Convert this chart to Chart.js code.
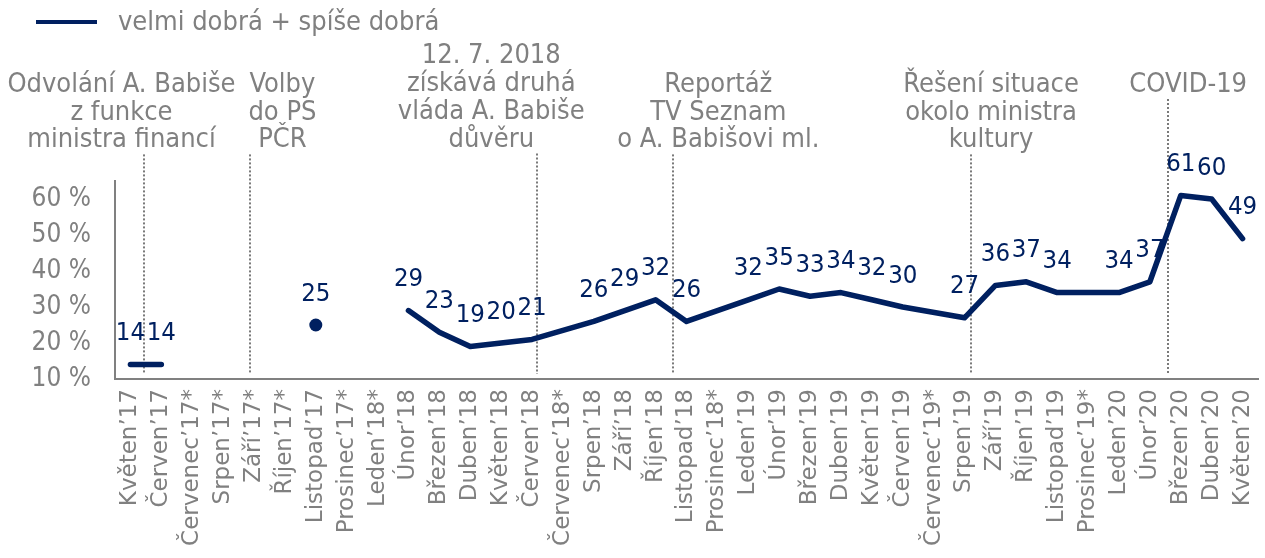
<!DOCTYPE html>
<html><head><meta charset="utf-8">
<script src="https://cdn.jsdelivr.net/npm/chart.js@4"></script>
<style>html,body{margin:0;padding:0;background:#fff}#wrap{width:1265px;height:558px}</style>
</head><body><div id="wrap"><canvas id="c" width="1265" height="558"></canvas></div>
<script>
const categories = ['Květen’17','Červen’17','Červenec’17*','Srpen’17*','Září’17*','Říjen’17*','Listopad’17','Prosinec’17*','Leden’18*','Únor’18','Březen’18','Duben’18','Květen’18','Červen’18','Červenec’18*','Srpen’18','Září’18','Říjen’18','Listopad’18','Prosinec’18*','Leden’19','Únor’19','Březen’19','Duben’19','Květen’19','Červen’19','Červenec’19*','Srpen’19','Září’19','Říjen’19','Listopad’19','Prosinec’19*','Leden’20','Únor’20','Březen’20','Duben’20','Květen’20'];
const values = [14,14,null,null,null,null,25,null,null,29,23,19,20,21,null,26,29,32,26,null,32,35,33,34,32,30,null,27,36,37,34,null,34,37,61,60,49];
const seriesName = 'velmi dobrá + spíše dobrá';
const yTickValues = [10,20,30,40,50,60];
const eventLines = [0.45, 3.88, 13.17, 17.57, 27.22, 33.59];
const eventTextAt = [-0.29, 4.92, 11.68, 19.03, 27.86, 34.24];
const eventTexts = [
  ['Odvolání A. Babiše','z funkce','ministra financí'],
  ['Volby','do PS','PČR'],
  ['12. 7. 2018','získává druhá','vláda A. Babiše','důvěru'],
  ['Reportáž','TV Seznam','o A. Babišovi ml.'],
  ['Řešení situace','okolo ministra','kultury'],
  ['COVID-19']
];

const NAVY = '#002060';
const GRAY = '#808080';
const FONT = '"DejaVu Sans", Verdana, sans-serif';
const FONT_C = '"DejaVu Sans Condensed", "DejaVu Sans", sans-serif';

function gapBefore(i) {
  let n = 0;
  for (let k = i - 1; k >= 0 && values[k] === null; k--) n++;
  return n;
}

const overlay = {
  id: 'overlay',
  beforeDatasetsDraw(chart) {
    const ctx = chart.ctx, xs = chart.scales.x, area = chart.chartArea;
    ctx.save();
    // legend
    ctx.strokeStyle = NAVY; ctx.lineWidth = 4;
    ctx.beginPath(); ctx.moveTo(36, 22); ctx.lineTo(97, 22); ctx.stroke();
    ctx.fillStyle = GRAY; ctx.font = '27px ' + FONT_C;
    ctx.textAlign = 'left'; ctx.textBaseline = 'alphabetic';
    ctx.fillText(seriesName, 118, 30);
    // events
    const lineH = 27.7, lastBase = 146.5, firstBase = 92;
    eventTexts.forEach((lines, i) => {
      const tx = xs.getPixelForValue(eventTextAt[i]);
      ctx.fillStyle = GRAY; ctx.textAlign = 'center';
      const n = lines.length;
      const top = n > 3 ? lastBase - (n - 1) * lineH : firstBase;
      lines.forEach((t, j) => ctx.fillText(t, tx, top + j * lineH));
      const endBase = top + (n - 1) * lineH;
      const lx = Math.round(xs.getPixelForValue(eventLines[i]));
      ctx.strokeStyle = '#7a7a7a'; ctx.lineWidth = 2; ctx.setLineDash([2, 2]);
      ctx.beginPath(); ctx.moveTo(lx, endBase + 7); ctx.lineTo(lx, area.bottom - 5); ctx.stroke();
      ctx.setLineDash([]);
    });
    ctx.restore();
  },
  afterDatasetsDraw(chart) {
    const ctx = chart.ctx, meta = chart.getDatasetMeta(0);
    ctx.save();
    ctx.fillStyle = NAVY; ctx.font = '25.5px ' + FONT_C;
    ctx.textAlign = 'center'; ctx.textBaseline = 'middle';
    meta.data.forEach((pt, i) => {
      const v = values[i];
      if (v === null) return;
      ctx.fillText(String(v), pt.x, pt.y - 31);
    });
    ctx.restore();
  }
};

new Chart(document.getElementById('c'), {
  type: 'line',
  data: {
    labels: categories,
    datasets: [{
      label: seriesName,
      data: values,
      borderColor: NAVY,
      backgroundColor: NAVY,
      borderWidth: 5.5,
      borderCapStyle: 'round',
      borderJoinStyle: 'round',
      spanGaps: true,
      tension: 0,
      pointRadius: ctx => {
        const i = ctx.dataIndex;
        return (values[i] !== null && values[i-1] == null && values[i+1] == null) ? 6.5 : 0;
      },
      pointBorderWidth: 0,
      pointHoverRadius: 0,
      segment: {
        borderColor: ctx => (gapBefore(ctx.p1DataIndex) > 1 ? 'rgba(0,0,0,0)' : undefined)
      }
    }]
  },
  options: {
    responsive: false,
    animation: false,
    devicePixelRatio: 1,
    layout: { padding: { top: 181, right: 7, left: 0, bottom: 0 } },
    plugins: { legend: { display: false }, tooltip: { enabled: false } },
    scales: {
      x: {
        offset: true,
        grid: { display: false, drawTicks: false },
        border: { display: true, color: GRAY, width: 2 },
        ticks: {
          autoSkip: false, maxRotation: 90, minRotation: 90,
          color: GRAY, font: { family: FONT, size: 23 }, padding: 10
        },
        afterFit: s => { s.height = 179; s.paddingLeft = 0; s.paddingRight = 0; }
      },
      y: {
        min: 10, max: 65,
        grid: { display: false, drawTicks: false },
        border: { display: true, color: GRAY, width: 2 },
        afterBuildTicks: s => { s.ticks = yTickValues.map(v => ({ value: v })); },
        ticks: {
          color: GRAY, font: { family: FONT_C, size: 26 }, padding: 24,
          callback: v => v + ' %'
        },
        afterFit: s => { s.width = 115; s.paddingTop = 0; s.paddingBottom = 0; }
      }
    }
  },
  plugins: [overlay]
});
</script>
</body></html>
